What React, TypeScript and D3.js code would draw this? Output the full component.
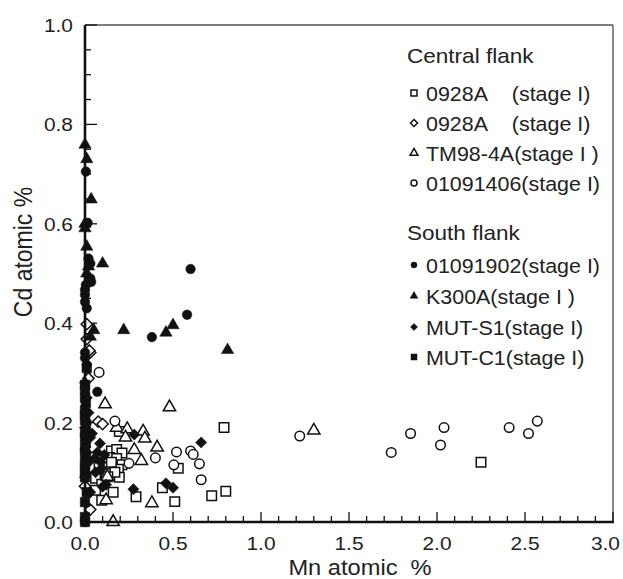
import React from "react";
import * as d3 from "d3";

// ---- Data (Mn atomic %, Cd atomic %) ----
const sq0928A: [number, number][] = [
  [0.79, 0.19], [2.25, 0.12], [0.53, 0.108], [0.44, 0.069], [0.72, 0.053], [0.8, 0.062],
  [0.51, 0.041], [0.29, 0.051], [0.195, 0.182], [0.15, 0.143], [0.18, 0.146], [0.21, 0.139],
  [0.14, 0.13], [0.18, 0.128], [0.21, 0.115], [0.19, 0.106], [0.195, 0.09], [0.12, 0.098],
  [0.1, 0.106], [0.06, 0.088], [0.13, 0.117], [0.095, 0.076], [0.16, 0.06], [0.095, 0.044],
  [0.06, 0.064], [0.15, 0.12], [0.17, 0.1], [0.08, 0.11], [0.13, 0.091],
];
const dia0928A: [number, number][] = [
  [0.075, 0.202], [0.1, 0.197], [0.01, 0.398], [0.01, 0.368], [0.03, 0.341], [0.02, 0.289],
  [0.0, 0.072], [0.03, 0.025], [0.025, 0.345],
];
const triTM98: [number, number][] = [
  [0.48, 0.231], [1.3, 0.184], [0.114, 0.237], [0.18, 0.19], [0.24, 0.187], [0.23, 0.17],
  [0.33, 0.182], [0.34, 0.168], [0.41, 0.15], [0.28, 0.145], [0.32, 0.123], [0.127, 0.091],
  [0.12, 0.044], [0.38, 0.038], [0.16, 0.0],
];
const circ01091406: [number, number][] = [
  [1.22, 0.173], [1.85, 0.178], [2.04, 0.19], [2.02, 0.155], [2.41, 0.19], [2.52, 0.178],
  [2.57, 0.203], [1.74, 0.14], [0.17, 0.203], [0.52, 0.141], [0.6, 0.143], [0.615, 0.136],
  [0.4, 0.129], [0.25, 0.118], [0.505, 0.115], [0.65, 0.117], [0.66, 0.085], [0.08, 0.301],
];
const circ01091902: [number, number][] = [
  [0.6, 0.509], [0.58, 0.417], [0.38, 0.372], [0.005, 0.705], [0.015, 0.602], [0.02, 0.53],
  [0.03, 0.52], [0.03, 0.49], [0.035, 0.483], [0.005, 0.477], [0.0, 0.467], [0.0, 0.457],
  [0.0, 0.443], [0.01, 0.43], [0.0, 0.341], [0.01, 0.316], [0.07, 0.262], [0.0, 0.33],
  [0.01, 0.2], [0.0, 0.0],
];
const triK300A: [number, number][] = [
  [0.0, 0.759], [0.01, 0.73], [0.035, 0.649], [0.0, 0.591], [0.01, 0.554], [0.1, 0.52],
  [0.02, 0.514], [0.22, 0.386], [0.05, 0.386], [0.03, 0.373], [0.46, 0.381], [0.5, 0.396],
  [0.81, 0.346], [0.0, 0.6], [0.01, 0.5],
];
const diaMUTS1: [number, number][] = [
  [0.28, 0.176], [0.085, 0.158], [0.66, 0.16], [0.04, 0.178], [0.057, 0.129], [0.095, 0.108],
  [0.1, 0.071], [0.12, 0.075], [0.275, 0.066], [0.46, 0.078], [0.5, 0.069], [0.11, 0.135],
  [0.0, 0.28], [0.01, 0.25], [0.02, 0.22], [0.0, 0.19], [0.03, 0.17], [0.01, 0.14],
  [0.02, 0.12], [0.07, 0.14], [0.09, 0.12], [0.06, 0.1], [0.03, 0.06], [0.0, 0.09],
];
const sqMUTC1: [number, number][] = [
  [0.0, 0.276], [0.0, 0.266], [0.01, 0.31], [0.0, 0.25], [0.005, 0.24], [0.0, 0.225],
  [0.0, 0.215], [0.0, 0.205], [0.005, 0.19], [0.0, 0.18], [0.0, 0.17], [0.005, 0.16],
  [0.0, 0.15], [0.0, 0.14], [0.005, 0.13], [0.0, 0.12], [0.0, 0.11], [0.0, 0.1],
  [0.0, 0.09], [0.01, 0.06], [0.0, 0.04], [0.0, 0.01], [0.0, 0.0],
];

const xTickLabels = ["0.0", "0.5", "1.0", "1.5", "2.0", "2.5", "3.0"];
const yTickLabels = ["0.0", "0.2", "0.4", "0.6", "0.8", "1.0"];

type Shape = "square" | "diamond" | "triangle" | "circle";
const series: { name: string; data: [number, number][]; shape: Shape; filled: boolean }[] = [
  { name: "0928A    (stage I)", data: sq0928A, shape: "square", filled: false },
  { name: "0928A    (stage I)", data: dia0928A, shape: "diamond", filled: false },
  { name: "TM98-4A(stage I )", data: triTM98, shape: "triangle", filled: false },
  { name: "01091406(stage I)", data: circ01091406, shape: "circle", filled: false },
  { name: "01091902(stage I)", data: circ01091902, shape: "circle", filled: true },
  { name: "K300A(stage I )", data: triK300A, shape: "triangle", filled: true },
  { name: "MUT-S1(stage I)", data: diaMUTS1, shape: "diamond", filled: true },
  { name: "MUT-C1(stage I)", data: sqMUTC1, shape: "square", filled: true },
];

const W = 623, H = 579;
const L = 85, R = 613, T = 25, B = 522;
const SX = 1.1;
const FONT = "'Liberation Sans', Arial, Helvetica, sans-serif";

const x = d3.scaleLinear().domain([0, 3]).range([L, R]);
const y = d3.scaleLinear().domain([0, 1]).range([B, T]);

function symbolPath(shape: Shape, size: number): string {
  const t =
    shape === "square" ? d3.symbolSquare :
    shape === "diamond" ? d3.symbolDiamond2 :
    shape === "triangle" ? d3.symbolTriangle : d3.symbolCircle;
  return d3.symbol(t, size)() || "";
}

function Marker({ shape, filled, cx, cy, scale }: { shape: Shape; filled: boolean; cx: number; cy: number; scale: number }) {
  const base = shape === "square" ? 90 : shape === "diamond" ? 80 : shape === "triangle" ? 66 : 72;
  const size = base * scale;
  return (
    <path
      d={symbolPath(shape, size)}
      transform={`translate(${cx},${cy})`}
      fill={filled ? "#111" : "#fff"}
      stroke="#111"
      strokeWidth={filled ? 0.5 : 1.5}
    />
  );
}

function SText({ x0, y0, size, anchor = "start", children }: any) {
  return (
    <text
      transform={`translate(${x0},${y0}) scale(${SX},1)`}
      fontSize={size}
      fontFamily={FONT}
      textAnchor={anchor}
      fill="#222"
    >
      {children}
    </text>
  );
}

export default function App() {
  const xMinor = d3.range(0, 3.0001, 0.1);
  const yMinor = d3.range(0, 1.0001, 0.05);
  const legendY = [94, 124, 154, 184, 266, 297, 328, 358];

  return (
    <svg width={W} height={H} style={{ position: "absolute", left: 0, top: 0, background: "#fff" }}>
      <rect x={0} y={0} width={W} height={H} fill="#fff" />
      {/* frame */}
      <line x1={L} y1={T} x2={R} y2={T} stroke="#555" strokeWidth={1.6} />
      <line x1={R} y1={T} x2={R} y2={B} stroke="#555" strokeWidth={1.4} />
      {/* x ticks */}
      {xMinor.map((v, i) => {
        const major = i % 5 === 0;
        return <line key={"xt" + i} x1={x(v)} x2={x(v)} y1={B} y2={B - (major ? 10 : 6)} stroke="#111" strokeWidth={1.3} />;
      })}
      {/* y ticks */}
      {yMinor.map((v, i) => {
        const major = i % 4 === 0;
        return <line key={"yt" + i} x1={L} x2={L + (major ? 12 : 6)} y1={y(v)} y2={y(v)} stroke="#111" strokeWidth={1.3} />;
      })}
      {/* data */}
      {series.map((s, si) =>
        s.data.map((d, i) => (
          <Marker key={si + "-" + i} shape={s.shape} filled={s.filled} cx={x(d[0])} cy={y(d[1])} scale={1} />
        ))
      )}
      {/* axes */}
      <line x1={L} y1={T} x2={L} y2={B + 1} stroke="#111" strokeWidth={2.6} />
      <line x1={L - 1} y1={B} x2={R + 1} y2={B} stroke="#111" strokeWidth={2.6} />
      {/* tick labels */}
      {xTickLabels.map((t, i) => (
        <SText key={"xl" + t} x0={i === xTickLabels.length - 1 ? 620 : x(+t)} y0={550} size={19} anchor={i === xTickLabels.length - 1 ? "end" : "middle"}>{t}</SText>
      ))}
      {yTickLabels.map((t) => (
        <SText key={"yl" + t} x0={73} y0={y(+t) + 7} size={19} anchor="end">{t}</SText>
      ))}
      {/* axis titles */}
      <SText x0={360} y0={575} size={21.5} anchor="middle">{"Mn atomic\u00a0\u00a0%"}</SText>
      <text
        transform={`translate(32,252) rotate(-90) scale(1,${SX})`}
        fontSize={23}
        fontFamily={FONT}
        textAnchor="middle"
        fill="#222"
      >
        Cd atomic %
      </text>
      {/* legend */}
      <SText x0={407} y0={63} size={20.5}>Central flank</SText>
      <SText x0={407} y0={240} size={20.5}>South flank</SText>
      {series.map((s, i) => (
        <g key={"lg" + i}>
          <Marker shape={s.shape} filled={s.filled} cx={414} cy={legendY[i] - 1} scale={0.4} />
          <SText x0={426} y0={legendY[i] + 7} size={19.5}>
            {s.name.replace(/ {2,}/g, (m) => "\u00a0".repeat(m.length))}
          </SText>
        </g>
      ))}
    </svg>
  );
}
